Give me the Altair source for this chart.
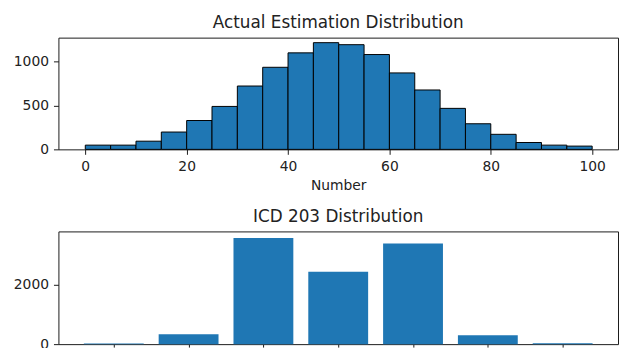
import altair as alt
import pandas as pd

# Histogram of actual estimations (bins of width 5 from 0 to 100)
bin_starts = [0, 5, 10, 15, 20, 25, 30, 35, 40, 45, 50, 55, 60, 65, 70, 75, 80, 85, 90, 95]
bin_counts = [48, 48, 93, 197, 328, 488, 720, 933, 1097, 1213, 1190, 1078, 869, 675, 466, 291, 171, 78, 48, 37]

# ICD 203 category counts
icd_categories = ["Almost no chance", "Very unlikely", "Unlikely", "Roughly even chance",
                  "Likely", "Very likely", "Almost certain"]
icd_counts = [20, 333, 3567, 2433, 3380, 300, 33]

BLUE = "#1f77b4"
FONT = "DejaVu Sans"

hist_df = pd.DataFrame({"start": bin_starts, "count": bin_counts})
hist_df["end"] = hist_df["start"] + 5

icd_df = pd.DataFrame({"category": icd_categories, "count": icd_counts,
                       "pos": list(range(len(icd_categories)))})

top = alt.Chart(hist_df, title=alt.Title("Actual Estimation Distribution")).mark_rect(
    fill=BLUE, stroke="black", strokeWidth=1
).encode(
    x=alt.X("start:Q", title="Number",
            scale=alt.Scale(domain=[-5.3, 105.1], nice=False, zero=False),
            axis=alt.Axis(values=[0, 20, 40, 60, 80, 100], grid=False, format="d")),
    x2="end:Q",
    y=alt.Y("count:Q", title=None,
            scale=alt.Scale(domain=[0, 1270], nice=False),
            axis=alt.Axis(values=[0, 500, 1000], grid=False, format="d")),
    y2=alt.datum(0),
).properties(width=566, height=113)

bottom = alt.Chart(icd_df, title=alt.Title("ICD 203 Distribution")).transform_calculate(
    x1="datum.pos - 0.4", x2="datum.pos + 0.4"
).mark_rect(fill=BLUE).encode(
    x=alt.X("x1:Q", title=None,
            scale=alt.Scale(domain=[-0.74, 6.74], nice=False, zero=False),
            axis=alt.Axis(values=list(range(7)), labels=False, grid=False, tickSize=3)),
    x2="x2:Q",
    y=alt.Y("count:Q", title=None,
            scale=alt.Scale(domain=[0, 3790], nice=False),
            axis=alt.Axis(values=[0, 2000], grid=False, format="d")),
    y2=alt.datum(0),
    tooltip=["category:N", "count:Q"],
).properties(width=566, height=114)

chart = alt.vconcat(top, bottom, spacing=13).properties(
    padding={"left": 4, "top": 3, "right": 0, "bottom": 0}
).configure_view(
    stroke="#1a1a1a", strokeWidth=1
).configure_axis(
    domain=False, tickColor="#1a1a1a", tickSize=5, labelFont=FONT, labelFontSize=14,
    labelColor="#222222", titleFont=FONT, titleFontSize=14, titleFontWeight="normal",
    titleColor="#222222", labelPadding=5, titlePadding=6
).configure_title(
    font=FONT, fontSize=17, fontWeight="normal", color="#222222", offset=6
)

chart.save("out.html", embed_options={"renderer": "svg", "actions": False})
